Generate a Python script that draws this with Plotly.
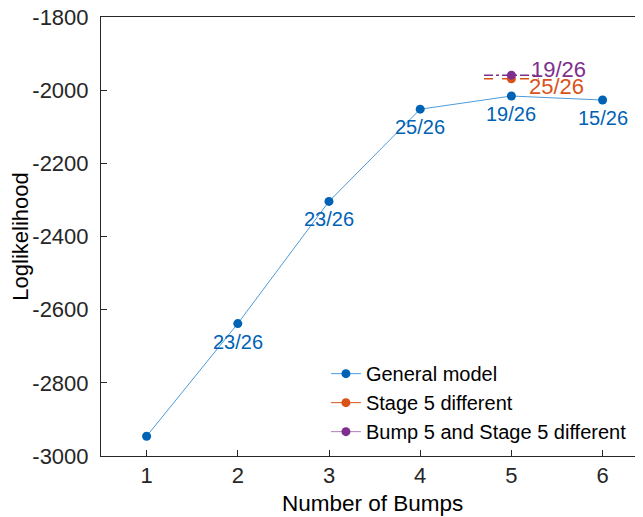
import plotly.graph_objects as go

# ---- data ----
bumps = [1, 2, 3, 4, 5, 6]
general_ll = [-2946, -2638, -2304, -2052, -2016, -2027]
general_labels = ["", "23/26", "23/26", "25/26", "19/26", "15/26"]

stage5_x = [5]
stage5_ll = [-1969]
stage5_label = "25/26"

bump5_x = [5]
bump5_ll = [-1959]
bump5_label = "19/26"

span_x = [4.7, 5.3]  # horizontal reference segments around x=5

x_ticks = [1, 2, 3, 4, 5, 6]
y_ticks = [-3000, -2800, -2600, -2400, -2200, -2000, -1800]
y_tick_text = ["-3000", "-2800", "-2600", "-2400", "-2200", "-2000", "-1800"]

BLUE = "#0062B4"
BLUE_LINE = "#4D9BDB"
ORANGE = "#D95319"
PURPLE = "#7E2F8E"
AX = "#262626"
FONT = "Liberation Sans, Arial, Helvetica, sans-serif"

fig = go.Figure()

# reference segments at x=5
fig.add_trace(go.Scatter(x=span_x, y=[stage5_ll[0]] * 2, mode="lines",
                         line=dict(color=ORANGE, width=1.5, dash="dash"),
                         showlegend=False, hoverinfo="skip"))
fig.add_trace(go.Scatter(x=span_x, y=[bump5_ll[0]] * 2, mode="lines",
                         line=dict(color=PURPLE, width=1.5, dash="dashdot"),
                         showlegend=False, hoverinfo="skip"))

fig.add_trace(go.Scatter(x=bumps, y=general_ll, mode="lines+markers",
                         name="General model",
                         line=dict(color=BLUE_LINE, width=1),
                         marker=dict(color=BLUE, size=9)))
fig.add_trace(go.Scatter(x=stage5_x, y=stage5_ll, mode="lines+markers",
                         name="Stage 5 different",
                         line=dict(color=ORANGE, width=1),
                         marker=dict(color=ORANGE, size=9)))
fig.add_trace(go.Scatter(x=bump5_x, y=bump5_ll, mode="lines+markers",
                         name="Bump 5 and Stage 5 different",
                         line=dict(color="#B07FBB", width=1),
                         marker=dict(color=PURPLE, size=9)))

annotations = []
for xv, yv, lab in zip(bumps, general_ll, general_labels):
    if lab:
        annotations.append(dict(x=xv, y=yv, text=lab, showarrow=False,
                                xanchor="center", yanchor="middle", yshift=-18,
                                font=dict(family=FONT, size=20, color=BLUE)))
annotations.append(dict(x=stage5_x[0], y=stage5_ll[0], text=stage5_label, showarrow=False,
                        xanchor="left", yanchor="middle", xshift=16, yshift=-8,
                        font=dict(family=FONT, size=22, color=ORANGE)))
annotations.append(dict(x=bump5_x[0], y=bump5_ll[0], text=bump5_label, showarrow=False,
                        xanchor="left", yanchor="middle", xshift=18, yshift=6,
                        font=dict(family=FONT, size=22, color=PURPLE)))
# x-axis title placed as annotation for exact position
annotations.append(dict(x=0.5, y=0, xref="paper", yref="paper", text="Number of Bumps",
                        showarrow=False, xanchor="center", yanchor="middle", yshift=-47,
                        font=dict(family=FONT, size=22.5, color="black")))

fig.update_layout(
    width=643, height=517,
    margin=dict(l=93, r=8, t=9, b=69, autoexpand=False),
    paper_bgcolor="white", plot_bgcolor="white",
    font=dict(family=FONT, size=19, color=AX),
    annotations=annotations,
    legend=dict(x=0.415, y=0.232, xanchor="left", yanchor="top",
                bgcolor="rgba(255,255,255,0)", font=dict(size=20, color="black"),
                itemwidth=30, tracegroupgap=0),
    xaxis=dict(range=[0.5, 6.443], tickvals=x_ticks, showgrid=False, zeroline=False,
               showline=True, linecolor=AX, linewidth=1, mirror=True, automargin=False,
               ticks="inside", ticklen=6, tickcolor=AX, ticklabelstandoff=0,
               ticklabeloverflow="allow",
               tickfont=dict(size=22, color=AX)),
    yaxis=dict(range=[-3000, -1800], tickvals=y_ticks, ticktext=y_tick_text,
               showgrid=False, zeroline=False, automargin=False,
               showline=True, linecolor=AX, linewidth=1,
               ticks="inside", ticklen=6, tickcolor=AX, ticklabelstandoff=7,
               ticklabeloverflow="allow",
               tickfont=dict(size=22, color=AX),
               title=dict(text="Loglikelihood", font=dict(size=22, color="black"), standoff=7)),
)

fig.write_html("out.html")
